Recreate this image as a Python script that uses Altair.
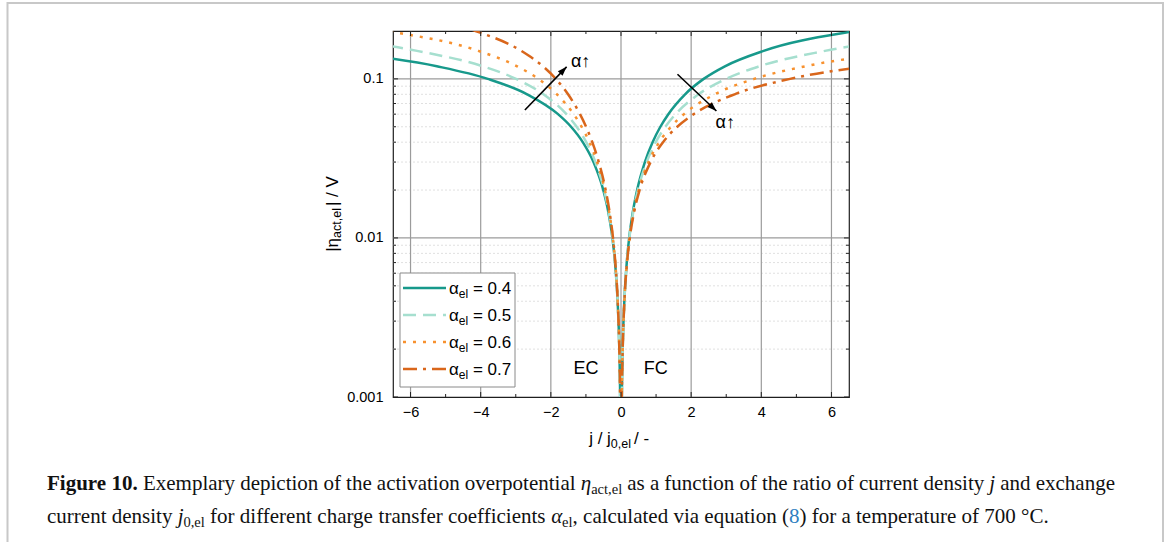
import altair as alt
import pandas as pd

# ---------------- values ----------------
# overpotential |eta| (V) and the |j/j0| reached on a branch with transfer coefficient c
eta_V = [0.0005, 0.001, 0.002, 0.004, 0.007, 0.01, 0.015, 0.02, 0.03, 0.04,
         0.05, 0.06, 0.08, 0.10, 0.12, 0.15, 0.20, 0.25]
ratio_c03 = [0.0119, 0.0237, 0.0473, 0.0936, 0.1617, 0.2279, 0.3348, 0.4377, 0.6334, 0.8185,
             0.9961, 1.1689, 1.5095, 1.8569, 2.2250, 2.8432, 4.1474, 5.9666]
ratio_c04 = [0.0119, 0.0238, 0.0475, 0.0945, 0.1644, 0.2334, 0.3470, 0.4591, 0.6804, 0.9005,
             1.1223, 1.3488, 1.8268, 2.3570, 2.9623, 4.0660, 6.6824, 10.83]
ratio_c05 = [0.0119, 0.0239, 0.0477, 0.0954, 0.1671, 0.2391, 0.3597, 0.4815, 0.7309, 0.9906,
             1.2644, 1.5563, 2.2109, 2.9919, 3.9438, 5.8148, 10.767, 19.66]
ratio_c06 = [0.0119, 0.0239, 0.0479, 0.0964, 0.1700, 0.2448, 0.3728, 0.5051, 0.7851, 1.0897,
             1.4246, 1.7957, 2.6757, 3.7977, 5.2506, 8.3158, 17.35, 35.70]
ratio_c07 = [0.0119, 0.0240, 0.0482, 0.0973, 0.1728, 0.2507, 0.3863, 0.5297, 0.8433, 1.1988,
             1.6050, 2.0719, 3.2381, 4.8206, 6.9904, 11.89, 27.95, 64.80]

alpha_labels = ["0.4", "0.5", "0.6", "0.7"]
fc_branch = [ratio_c04, ratio_c05, ratio_c06, ratio_c07]   # j > 0  (FC)
ec_branch = [ratio_c06, ratio_c05, ratio_c04, ratio_c03]   # j < 0  (EC)
line_colors = ["#17998b", "#a6dfcf", "#f7912f", "#d9661b"]
line_dashes = [None, [13, 7], [3, 7], [14, 6, 3, 6]]

x_major = [-6, -4, -2, 0, 2, 4, 6]
x_minor = [-5, -3, -1, 1, 3, 5]
y_major = [0.001, 0.01, 0.1]
y_minor = [0.002, 0.003, 0.004, 0.005, 0.006, 0.007, 0.008, 0.009,
           0.02, 0.03, 0.04, 0.05, 0.06, 0.07, 0.08, 0.09]

arrow_x0 = [-2.74, 1.61]
arrow_y0 = [0.0637, 0.107]
arrow_x1 = [-1.55, 2.72]
arrow_y1 = [0.119, 0.0628]
arrow_angle = [43.8, 133.6]
arrow_label_x = [-1.15, 2.97]
arrow_label_y = [0.128, 0.0528]
region_labels = ["EC", "FC"]
region_x = [-1.0, 0.99]
region_y = [0.0015, 0.0015]

# ---------------- geometry ----------------
W, H = 456, 366
PL, PT = 393, 31
SANS = "Liberation Sans"
SERIF = "Liberation Serif"

xs = alt.Scale(domain=[-6.5, 6.5], nice=False, zero=False)
ys = alt.Scale(type="log", domain=[0.001, 0.2], nice=False)
xax = alt.Axis(values=x_major, format="d", title=None, grid=False, ticks=False, tickSize=0,
               domain=False, labelPadding=8, labelFontSize=14.5, labelFont=SANS,
               labelColor="#000000", labelFlush=False, labelOverlap=False)
yax = alt.Axis(values=y_major, format="~g", title=None, grid=False, ticks=False, tickSize=0,
               domain=False, labelPadding=10, labelFontSize=14.5, labelFont=SANS,
               labelColor="#000000", labelFlush=False, labelOverlap=False)


def X(f):
    return alt.X(f, type="quantitative", scale=xs, axis=xax)


def Y(f):
    return alt.Y(f, type="quantitative", scale=ys, axis=yax)


one = pd.DataFrame({"k": [0]})
layers = []

# grids
layers.append(alt.Chart(pd.DataFrame({"v": y_minor})).mark_rule(
    color="#e0e0e0", strokeWidth=1, strokeDash=[2, 2]).encode(
    y=Y("v"), x=alt.value(0), x2=alt.value(W)))
layers.append(alt.Chart(pd.DataFrame({"v": y_major[1:]})).mark_rule(
    color="#9b9b9b", strokeWidth=1.2).encode(y=Y("v"), x=alt.value(0), x2=alt.value(W)))
layers.append(alt.Chart(pd.DataFrame({"v": x_major})).mark_rule(
    color="#9b9b9b", strokeWidth=1.2).encode(x=X("v"), y=alt.value(0), y2=alt.value(H)))

# curves
for i, lab in enumerate(alpha_labels):
    rows = [{"j": -r, "eta": e} for r, e in zip(ec_branch[i], eta_V)]
    rows += [{"j": r, "eta": e} for r, e in zip(fc_branch[i], eta_V)]
    kw = dict(clip=True, interpolate="monotone", color=line_colors[i], strokeWidth=2.5)
    if line_dashes[i] is not None:
        kw["strokeDash"] = line_dashes[i]
    layers.append(alt.Chart(pd.DataFrame(rows)).mark_line(**kw).encode(x=X("j"), y=Y("eta")))

# arrows
arr = pd.DataFrame({"x0": arrow_x0, "y0": arrow_y0, "x1": arrow_x1, "y1": arrow_y1,
                    "ang": arrow_angle, "lx": arrow_label_x, "ly": arrow_label_y})
layers.append(alt.Chart(arr).mark_rule(color="black", strokeWidth=1.6).encode(
    x=X("x0"), x2=alt.X2("x1"), y=Y("y0"), y2=alt.Y2("y1")))
layers.append(alt.Chart(arr).mark_point(
    shape="M0,0L-0.42,1.2L0.42,1.2Z", filled=True, size=240, color="black", opacity=1).encode(
    x=X("x1"), y=Y("y1"), angle=alt.Angle("ang:Q", scale=None)))
layers.append(alt.Chart(arr).mark_text(
    text="α↑", font=SANS, fontSize=18, color="black", align="center", baseline="middle").encode(
    x=X("lx"), y=Y("ly")))

# EC / FC
layers.append(alt.Chart(pd.DataFrame({"t": region_labels, "x": region_x, "y": region_y})).mark_text(
    font=SANS, fontSize=18, color="black", align="center", baseline="middle").encode(
    x=X("x"), y=Y("y"), text="t:N"))

# inward ticks
for vals, ln in ((x_major, 5), (x_minor, 3)):
    d = pd.DataFrame({"v": vals})
    layers.append(alt.Chart(d).mark_rule(color="#222", strokeWidth=1).encode(
        x=X("v"), y=alt.value(H), y2=alt.value(H - ln)))
    layers.append(alt.Chart(d).mark_rule(color="#222", strokeWidth=1).encode(
        x=X("v"), y=alt.value(0), y2=alt.value(ln)))
for vals, ln in ((y_major, 5), (y_minor, 3)):
    d = pd.DataFrame({"v": vals})
    layers.append(alt.Chart(d).mark_rule(color="#222", strokeWidth=1).encode(
        y=Y("v"), x=alt.value(0), x2=alt.value(ln)))
    layers.append(alt.Chart(d).mark_rule(color="#222", strokeWidth=1).encode(
        y=Y("v"), x=alt.value(W), x2=alt.value(W - ln)))

# ---------------- legend (drawn by hand) ----------------
layers.append(alt.Chart(one).mark_rect(fill="white", stroke="#8a8a8a", strokeWidth=1).encode(
    x=alt.value(7), x2=alt.value(122), y=alt.value(242), y2=alt.value(356)))

ARIAL = {' ': 278, '|': 260, '/': 278, 'V': 667, 'η': 556, 'a': 556, 'c': 500, 't': 278,
         ',': 278, 'e': 556, 'l': 222, 'j': 222, '-': 333, 'α': 578, '=': 584, '.': 278}


def aw(s, size):
    return sum(ARIAL.get(ch, 556) for ch in s) * size / 1000.0


leg_main, leg_sub = [], []
for i, lab in enumerate(alpha_labels):
    ry = 257 + 27 * i
    kw = dict(color=line_colors[i], strokeWidth=2.5)
    if line_dashes[i] is not None:
        kw["strokeDash"] = line_dashes[i]
    layers.append(alt.Chart(one).mark_rule(**kw).encode(
        x=alt.value(10), x2=alt.value(53), y=alt.value(ry)))
    x0 = 56
    leg_main.append({"t": "α", "px": x0, "py": ry + 6})
    x1 = x0 + aw("α", 17)
    leg_sub.append({"t": "el", "px": x1, "py": ry + 10})
    x2 = x1 + aw("el", 12) + aw(" ", 17)
    leg_main.append({"t": "= " + lab, "px": x2, "py": ry + 6})


def pix_text(rows, **kw):
    base = dict(align="left", baseline="alphabetic", color="black")
    base.update(kw)
    return alt.Chart(pd.DataFrame(rows)).mark_text(**base).encode(
        x=alt.X("px:Q", scale=None), y=alt.Y("py:Q", scale=None), text="t:N")


layers.append(pix_text(leg_main, font=SANS, fontSize=17))
layers.append(pix_text(leg_sub, font=SANS, fontSize=12))

# ---------------- axis titles ----------------
# x title  "j / j0,el / -"
xt_main, xt_sub = [], []
xlen = aw("j / j", 17) + aw("0,el", 12.5) + 3 + aw(" / -", 17)
xs0 = 621.5 - PL - xlen / 2
xt_main.append({"t": "j / j", "px": xs0, "py": 413})
xs1 = xs0 + aw("j / j", 17)
xt_sub.append({"t": "0,el", "px": xs1, "py": 417})
xs2 = xs1 + aw("0,el", 12.5) + 3
xt_main.append({"t": " / -", "px": xs2, "py": 413})
layers.append(pix_text(xt_main, font=SANS, fontSize=17))
layers.append(pix_text(xt_sub, font=SANS, fontSize=12.5))

# y title  "|eta_act,el| / V"  (rotated)
yt_main, yt_sub = [], []
ylen = aw("|η", 17) + aw("act,el", 12.5) + 2 + aw("| / V", 17)
ys0 = H / 2 + ylen / 2
yt_main.append({"t": "|η", "px": -55.5, "py": ys0})
ys1 = ys0 - aw("|η", 17)
yt_sub.append({"t": "act,el", "px": -52, "py": ys1})
ys2 = ys1 - aw("act,el", 12.5) - 2
yt_main.append({"t": "| / V", "px": -55.5, "py": ys2})
layers.append(pix_text(yt_main, font=SANS, fontSize=17, angle=270))
layers.append(pix_text(yt_sub, font=SANS, fontSize=12.5, angle=270))

# ---------------- caption ----------------
TR = {' ': 250, 'a': 444, 'b': 500, 'c': 444, 'd': 500, 'e': 444, 'f': 333, 'g': 500, 'h': 500,
      'i': 278, 'j': 278, 'k': 500, 'l': 278, 'm': 778, 'n': 500, 'o': 500, 'p': 500, 'q': 500,
      'r': 333, 's': 389, 't': 278, 'u': 500, 'v': 500, 'w': 722, 'x': 500, 'y': 500, 'z': 444,
      '.': 250, ',': 250, '(': 333, ')': 333, '°': 400, 'C': 667, 'E': 611, 'F': 556}
TB = {'F': 611, 'i': 278, 'g': 500, 'u': 556, 'r': 444, 'e': 444, '.': 250}
TI = {'j': 278, 'η': 500, 'α': 520}
CAP, CAPS = 21, 14.5


def cw(t, st):
    tab = TB if st == "b" else (TI if st == "i" else TR)
    size = CAPS if st == "s" else CAP
    return sum(tab.get(ch, TR.get(ch, 500)) for ch in t) * size / 1000.0


def layout(words, x0, base, end=None):
    widths = [sum(cw(t, st) for t, st in w) for w in words]
    gap = 250 * CAP / 1000.0
    if end is not None:
        natural = sum(widths) + gap * (len(words) - 1)
        gap += (end - x0 - natural) / (len(words) - 1)
    rows, x = [], x0
    for w, wd in zip(words, widths):
        cx = x
        for t, st in w:
            rows.append({"t": t, "px": cx, "py": base + (4 if st == "s" else 0), "st": st})
            cx += cw(t, st)
        x += wd + gap
    return rows


cap1 = [[("Figure", "b")], [("10.", "b")], [("Exemplary", "r")], [("depiction", "r")], [("of", "r")],
        [("the", "r")], [("activation", "r")], [("overpotential", "r")], [("η", "i"), ("act,el", "s")],
        [("as", "r")], [("a", "r")], [("function", "r")], [("of", "r")], [("the", "r")], [("ratio", "r")],
        [("of", "r")], [("current", "r")], [("density", "r")], [("j", "i")], [("and", "r")],
        [("exchange", "r")]]
cap2 = [[("current", "r")], [("density", "r")], [("j", "i"), ("0,el", "s")], [("for", "r")],
        [("different", "r")], [("charge", "r")], [("transfer", "r")], [("coefficients", "r")],
        [("α", "i"), ("el", "s"), (",", "r")], [("calculated", "r")], [("via", "r")], [("equation", "r")],
        [("(", "r"), ("8", "link"), (")", "r")], [("for", "r")], [("a", "r")], [("temperature", "r")],
        [("of", "r")], [("700", "r")], [("°C.", "r")]]
caprows = layout(cap1, 47 - PL, 490 - PT, end=1115 - PL) + layout(cap2, 47 - PL, 523 - PT)
capdf = pd.DataFrame(caprows)
styles = {"b": dict(fontWeight="bold"), "r": dict(), "i": dict(fontStyle="italic"),
          "s": dict(fontSize=CAPS), "link": dict(color="#2f7fc1")}
for st, extra in styles.items():
    sub = capdf[capdf["st"] == st][["t", "px", "py"]].to_dict("records")
    if not sub:
        continue
    kw = dict(font=SERIF, fontSize=CAP, color="#111111")
    kw.update(extra)
    layers.append(pix_text(sub, **kw))

# outer figure frame
layers.append(alt.Chart(one).mark_rect(filled=False, color="#c8c8c8", strokeWidth=2).encode(
    x=alt.value(7.5 - PL), x2=alt.value(1163 - PL), y=alt.value(3 - PT), y2=alt.value(560 - PT)))

chart = alt.layer(*layers).properties(
    width=W, height=H, background="white", autosize="none",
    padding={"left": PL, "top": PT, "right": 1168 - PL - W, "bottom": 542 - PT - H},
).configure_view(stroke="#1e1e1e", strokeWidth=1.2)

chart.save("out.html", embed_options={"renderer": "svg", "actions": False})
